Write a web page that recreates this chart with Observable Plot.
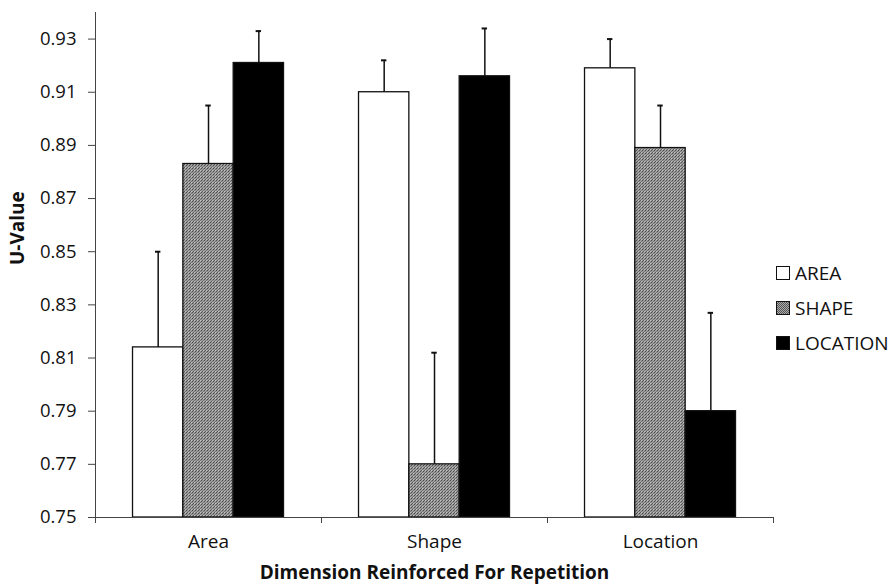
<!DOCTYPE html>
<html><head><meta charset="utf-8">
<script src="https://cdn.jsdelivr.net/npm/d3@7"></script>
<script src="https://cdn.jsdelivr.net/npm/@observablehq/plot@0.6"></script>
<style>
body{margin:0;background:#fff;}
#wrap{position:relative;width:892px;height:588px;}
.legend{position:absolute;left:776px;top:255px;font-family:"Open Sans";font-size:19px;color:#111;}
.item{display:flex;align-items:center;height:35px;}
.sw{width:14px;height:14px;border:1.5px solid #111;box-sizing:border-box;margin-right:5px;}
</style></head><body><div id="wrap"></div>
<script>
const categories = ["Area", "Shape", "Location"];
const series = ["AREA", "SHAPE", "LOCATION"];
// values per category, one array per series
const areaValues = [0.814, 0.910, 0.919];
const shapeValues = [0.883, 0.770, 0.889];
const locationValues = [0.921, 0.916, 0.790];
// upper error amounts
const areaErr = [0.036, 0.012, 0.011];
const shapeErr = [0.022, 0.042, 0.016];
const locationErr = [0.012, 0.018, 0.037];
const yTicks = [0.75, 0.77, 0.79, 0.81, 0.83, 0.85, 0.87, 0.89, 0.91, 0.93];

const valueSets = [areaValues, shapeValues, locationValues];
const errSets = [areaErr, shapeErr, locationErr];
const rows = [];
categories.forEach((c, ci) => series.forEach((s, si) => rows.push({category: c, ci, series: s, si, value: valueSets[si][ci], err: errSets[si][ci]})));

const PAD = 0.166, BW = 0.2227, CAP = 0.012;
const left = d => d.ci + PAD + d.si * BW;
const right = d => d.ci + PAD + (d.si + 1) * BW;
const mid = d => d.ci + PAD + (d.si + 0.5) * BW;

const chart = Plot.plot({
  width: 892, height: 588,
  marginLeft: 95, marginRight: 119, marginTop: 12, marginBottom: 71,
  style: {fontFamily: "Open Sans", fontSize: "18px", color: "#111", background: "white"},
  x: {domain: [0, 3], axis: null},
  y: {domain: [0.75, 0.94], axis: null},
  color: {domain: series, range: ["white", "url(#halftone)", "black"]},
  marks: [
    Plot.rect(rows, {x1: left, x2: right, y1: 0.75, y2: "value", fill: "series", stroke: "#111", strokeWidth: 1.3}),
    Plot.ruleX(rows, {x: mid, y1: "value", y2: d => d.value + d.err, stroke: "#111", strokeWidth: 1.5}),
    Plot.ruleY(rows, {y: d => d.value + d.err, x1: d => mid(d) - CAP, x2: d => mid(d) + CAP, stroke: "#111", strokeWidth: 2}),
    Plot.ruleY([0.75], {stroke: "#444"}),
    Plot.ruleX([0], {stroke: "#444"}),
    Plot.axisY({ticks: yTicks, tickFormat: d3.format(".2f"), tickSize: 7, tickPadding: 12, label: null, fontSize: 18.5, stroke: "#444"}),
    Plot.axisX({ticks: [0, 1, 2, 3], tickSize: 6, tickFormat: () => "", label: null, stroke: "#444"}),
    Plot.text(categories, {x: (d, i) => i + 0.5, frameAnchor: "bottom", dy: 30, fontSize: 19}),
    Plot.text(["Dimension Reinforced For Repetition"], {frameAnchor: "bottom", dy: 61, fontSize: 19, fontWeight: "bold"}),
    Plot.text(["U-Value"], {frameAnchor: "left", dx: -78, rotate: -90, fontSize: 19, fontWeight: "bold"})
  ]
});
const ns = "http://www.w3.org/2000/svg";
const defs = document.createElementNS(ns, "defs");
defs.innerHTML = `<pattern id="halftone" width="3" height="3" patternUnits="userSpaceOnUse"><rect width="3" height="3" fill="#9c9c9c"/><rect width="1" height="1" fill="#4a4a4a"/><rect x="1" y="2" width="1" height="1" fill="#5a5a5a"/><rect x="2" y="1" width="1" height="1" fill="#707070"/><rect x="2" y="2" width="1" height="1" fill="#c4c4c4"/></pattern>`;
chart.insertBefore(defs, chart.firstChild);
const wrap = document.getElementById("wrap");
wrap.appendChild(chart);
const lg = document.createElement("div");
lg.className = "legend";
const swatchBg = ["#fff", "repeating-conic-gradient(#555 0 25%, #aaa 0 50%) 0 0/2px 2px", "#000"];
series.forEach((s, i) => {
  const it = document.createElement("div"); it.className = "item";
  const sw = document.createElement("div"); sw.className = "sw"; sw.style.background = swatchBg[i];
  const t = document.createElement("span"); t.textContent = s;
  it.appendChild(sw); it.appendChild(t); lg.appendChild(it);
});
wrap.appendChild(lg);
</script>
</body></html>
